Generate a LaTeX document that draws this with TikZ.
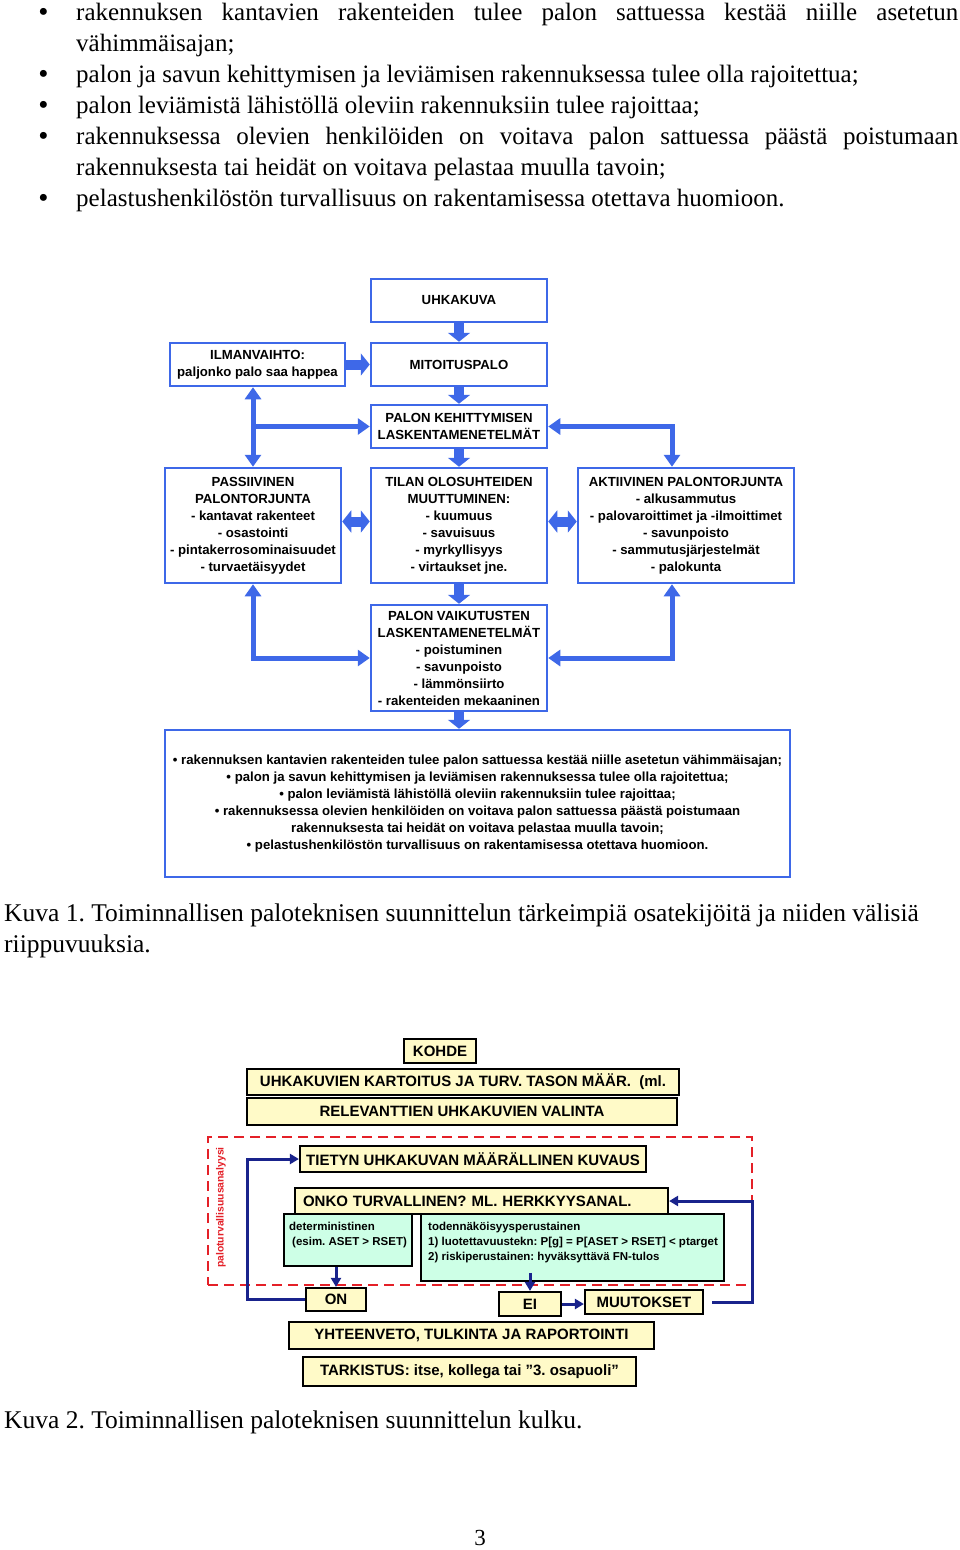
\documentclass[tikz,border=0pt]{standalone}
\usepackage{fontspec}
\setmainfont{Liberation Serif}
\setsansfont{Liberation Sans}
\usetikzlibrary{arrows.meta}
\frenchspacing
\definecolor{bl}{RGB}{62,104,232}
\definecolor{navyc}{RGB}{25,35,140}
\definecolor{redc}{RGB}{228,32,40}
\definecolor{yel}{RGB}{255,250,200}
\definecolor{mint}{RGB}{205,255,230}
\tikzset{
  body/.style={font=\fontsize{25}{31}\selectfont, inner sep=0pt, anchor=base west},
  captxt/.style={font=\fontsize{25.5}{31}\selectfont, inner sep=0pt, anchor=base west},
  bul/.style={font=\fontsize{29}{31}\selectfont, inner sep=0pt, anchor=base},
  bbox/.style={draw=bl, line width=2.5pt, fill=white, align=center, inner sep=0pt,
    font=\sffamily\bfseries\fontsize{13.2}{17}\selectfont},
  blk/.style={draw=bl, line width=10pt, -{Triangle[length=9pt,width=22pt]}},
  dblk/.style={draw=bl, line width=10pt, {Triangle[length=9pt,width=22pt]}-{Triangle[length=9pt,width=22pt]}},
  conn/.style={draw=bl, line width=5pt, -{Triangle[length=12pt,width=16pt]}},
  dconn/.style={draw=bl, line width=5pt, {Triangle[length=12pt,width=16pt]}-{Triangle[length=12pt,width=16pt]}},
  ybox/.style={draw=black, line width=2.2pt, fill=yel, inner sep=0pt,
    font=\sffamily\bfseries\fontsize{15}{18}\selectfont},
  mbox/.style={draw=black, line width=1.8pt, fill=mint, inner sep=0pt},
  smalltxt/.style={font=\sffamily\bfseries\fontsize{11.5}{15}\selectfont, align=left, inner sep=0pt, anchor=north west},
  narr/.style={draw=navyc, line width=3pt, -{Triangle[length=9pt,width=10pt]}},
  zonebox/.style={draw=redc, line width=2.8pt, dash pattern=on 10pt off 6pt},
}
\begin{document}
\begin{tikzpicture}[x=1pt,y=-1pt]
\useasboundingbox (0,0) rectangle (960,1550);
\fill[white] (0,0) rectangle (960,1550);

% ---------- top list ----------
\node[bul] (b1) at (43.5,21) {•};
\node[body] (t1) at (76,20) {\makebox[882pt][s]{rakennuksen kantavien rakenteiden tulee palon sattuessa kestää niille asetetun}};
\node[body] (t2) at (76,51) {vähimmäisajan;};
\node[bul] (b2) at (43.5,83) {•};
\node[body] (t3) at (76,82) {palon ja savun kehittymisen ja leviämisen rakennuksessa tulee olla rajoitettua;};
\node[bul] (b3) at (43.5,114) {•};
\node[body] (t4) at (76,113) {palon leviämistä lähistöllä oleviin rakennuksiin tulee rajoittaa;};
\node[bul] (b4) at (43.5,145) {•};
\node[body] (t5) at (76,144) {\makebox[882pt][s]{rakennuksessa olevien henkilöiden on voitava palon sattuessa päästä poistumaan}};
\node[body] (t6) at (76,175) {rakennuksesta tai heidät on voitava pelastaa muulla tavoin;};
\node[bul] (b5) at (43.5,207) {•};
\node[body] (t7) at (76,206) {pelastushenkilöstön turvallisuus on rakentamisessa otettava huomioon.};

% ---------- diagram 1 ----------
\node[bbox, minimum width=176pt, minimum height=43pt] (uhka) at (459,300.5) {UHKAKUVA};
\node[bbox, minimum width=175pt, minimum height=43pt] (ilma) at (257.5,364.5) {ILMANVAIHTO:\\paljonko palo saa happea};
\node[bbox, minimum width=176pt, minimum height=43pt] (mito) at (459,364.5) {MITOITUSPALO};
\node[bbox, minimum width=176pt, minimum height=43pt] (kehi) at (459,426.5) {PALON KEHITTYMISEN\\LASKENTAMENETELMÄT};
\node[bbox, minimum width=176pt, minimum height=115pt] (pass) at (253,525.5)
  {PASSIIVINEN\\PALONTORJUNTA\\- kantavat rakenteet\\- osastointi\\- pintakerrosominaisuudet\\- turvaetäisyydet};
\node[bbox, minimum width=176pt, minimum height=115pt] (tila) at (459,525.5)
  {TILAN OLOSUHTEIDEN\\MUUTTUMINEN:\\- kuumuus\\- savuisuus\\- myrkyllisyys\\- virtaukset jne.};
\node[bbox, minimum width=216pt, minimum height=115pt] (akti) at (686,525.5)
  {AKTIIVINEN PALONTORJUNTA\\- alkusammutus\\- palovaroittimet ja -ilmoittimet\\- savunpoisto\\- sammutusjärjestelmät\\- palokunta};
\node[bbox, minimum width=176pt, minimum height=106pt] (vaik) at (459,658)
  {PALON VAIKUTUSTEN\\LASKENTAMENETELMÄT\\- poistuminen\\- savunpoisto\\- lämmönsiirto\\- rakenteiden mekaaninen};
\node[bbox, minimum width=625pt, minimum height=147pt] (bott) at (477.5,803.5)
  {• rakennuksen kantavien rakenteiden tulee palon sattuessa kestää niille asetetun vähimmäisajan;\\
   • palon ja savun kehittymisen ja leviämisen rakennuksessa tulee olla rajoitettua;\\
   • palon leviämistä lähistöllä oleviin rakennuksiin tulee rajoittaa;\\
   • rakennuksessa olevien henkilöiden on voitava palon sattuessa päästä poistumaan\\
   rakennuksesta tai heidät on voitava pelastaa muulla tavoin;\\
   • pelastushenkilöstön turvallisuus on rakentamisessa otettava huomioon.};

\coordinate (rc) at (672,0);
\draw[blk] (uhka) -- (mito);
\draw[blk] (ilma) -- (mito);
\draw[blk] (mito) -- (kehi);
\draw[blk] (kehi) -- (tila);
\draw[blk] (tila) -- (vaik);
\draw[blk] (vaik) -- (vaik.south |- bott.north);
\draw[dblk] ([yshift=4pt]pass.east) -- ([yshift=4pt]tila.west);
\draw[dblk] ([yshift=4pt]tila.east) -- ([yshift=4pt]akti.west);
\draw[dconn] (ilma.south -| pass.north) -- (pass.north);
\draw[conn] (pass.north |- kehi.west) -- (kehi.west);
\draw[dconn] (kehi.east) -| (akti.north -| rc);
\draw[dconn] (pass.south) |- (vaik.west);
\draw[dconn] (vaik.east) -| (akti.south -| rc);

% captions
\node[captxt] (cap1) at (4,921) {Kuva 1. Toiminnallisen paloteknisen suunnittelun tärkeimpiä osatekijöitä ja niiden välisiä};
\node[captxt] (cap1b) at (4,952) {riippuvuuksia.};

% ---------- diagram 2 ----------
\node[zonebox, minimum width=544pt, minimum height=148pt, inner sep=0pt] (zone) at (480,1211) {};
\node[rotate=90, text=redc, inner sep=0pt, font=\sffamily\bfseries\fontsize{10.4}{12}\selectfont] (ana) at (221,1207.5) {paloturvallisuusanalyysi};

\node[ybox, minimum width=72pt, minimum height=24pt] (kohde) at (440,1051) {KOHDE};
\node[ybox, minimum width=432pt, minimum height=26pt] (kart) at (463,1082) {UHKAKUVIEN KARTOITUS JA TURV. TASON MÄÄR.~~(ml.};
\node[ybox, minimum width=430pt, minimum height=27pt] (rele) at (462,1111.5) {RELEVANTTIEN UHKAKUVIEN VALINTA};
\node[ybox, minimum width=346pt, minimum height=26pt] (tiet) at (473,1159) {TIETYN UHKAKUVAN MÄÄRÄLLINEN KUVAUS};
\node[ybox, minimum height=26pt, text width=357pt, inner xsep=8pt, align=left] (onko) at (481.5,1201) {ONKO TURVALLINEN? ML. HERKKYYSANAL.};
\node[mbox, minimum width=128pt, minimum height=52pt] (det) at (348,1240) {};
\node[mbox, minimum width=303pt, minimum height=67pt] (todn) at (572.5,1247.5) {};
\node[smalltxt] (dett) at (289,1221.5) {deterministinen\\\hspace{3pt}(esim. ASET > RSET)};
\node[smalltxt] (todt) at (428,1221.5) {todennäköisyysperustainen\\1) luotettavuustekn: P[g] = P[ASET > RSET] < ptarget\\2) riskiperustainen: hyväksyttävä FN-tulos};
\node[ybox, minimum width=60pt, minimum height=23pt] (on) at (336,1299.5) {ON};
\node[ybox, minimum width=62pt, minimum height=24pt] (ei) at (530,1304) {EI};
\node[ybox, minimum width=118pt, minimum height=24pt] (muut) at (644,1302) {MUUTOKSET};
\node[ybox, minimum width=365pt, minimum height=27pt] (yht) at (471.5,1335.5) {YHTEENVETO, TULKINTA JA RAPORTOINTI};
\node[ybox, minimum width=333pt, minimum height=29pt] (tark) at (469.5,1371.5) {TARKISTUS: itse, kollega tai ”3. osapuoli”};

\coordinate (lc) at (247,0);
\coordinate (rr) at (744,0);
\draw[narr] (det.south -| on.north) -- (on.north);
\draw[narr] (on.west) -- (on.west -| lc) |- (tiet.west);
\draw[narr] ([yshift=9pt]todn.south -| ei.north) -- (ei.north);
\draw[narr] (ei.east) -- (ei.east -| muut.west);
\draw[narr] ([xshift=8pt]muut.east) -- ([xshift=8pt]muut.east -| rr) |- (onko.east);

\node[captxt] (cap2) at (4,1428) {Kuva 2. Toiminnallisen paloteknisen suunnittelun kulku.};
\node[inner sep=0pt, anchor=base, font=\fontsize{23}{26}\selectfont] (pg) at (480,1545.5) {3};
\end{tikzpicture}
\end{document}
